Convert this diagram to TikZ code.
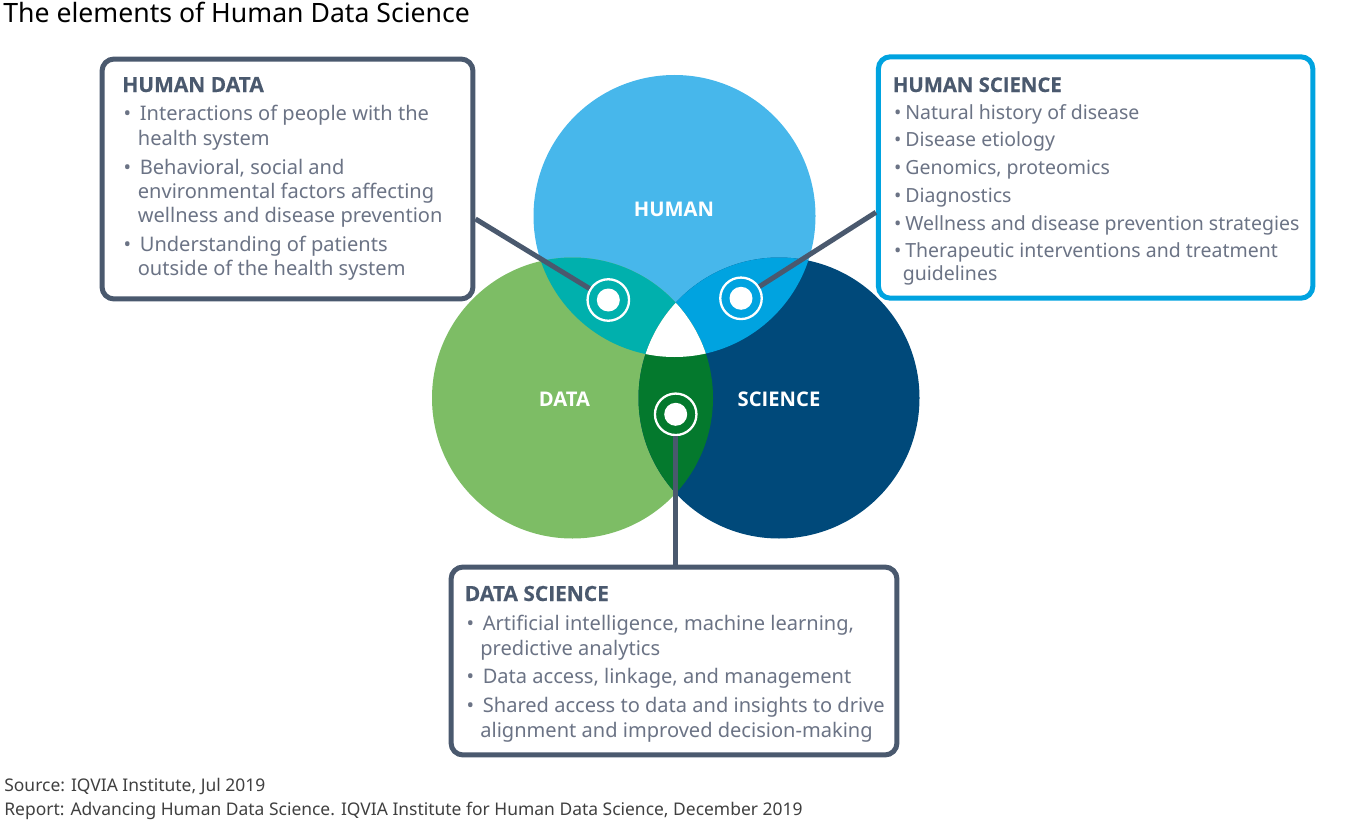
\documentclass[tikz,border=0pt]{standalone}
\usepackage{fontspec}
\setmainfont{Noto Sans}
\newfontfamily\headfont{Open Sans}
\newfontfamily\heavyfont{Open Sans}[BoldFeatures={FakeBold=0.4}]
\definecolor{humanblue}{HTML}{47B7EB}
\definecolor{datagreen}{HTML}{7DBD65}
\definecolor{sciencenavy}{HTML}{00497A}
\definecolor{humandata}{HTML}{00B0AD}
\definecolor{humanscience}{HTML}{00A3E0}
\definecolor{datascience}{HTML}{04792D}
\definecolor{slate}{HTML}{4A596E}
\definecolor{bodygrey}{HTML}{6B7385}
\tikzset{
  infobox/.style={draw=slate,line width=0.1cm,rounded corners=0.24cm,fill=white,inner sep=0pt},
  heading/.style={anchor=base west,inner sep=0pt,text=slate,font=\fontsize{11.9}{14}\heavyfont\bfseries},
  hshead/.style={heading,font=\fontsize{11.56}{14}\heavyfont\bfseries},
  line/.style={anchor=base west,inner sep=0pt,text=bodygrey,font=\fontsize{11.42}{14}\selectfont},
  hsline/.style={line,font=\fontsize{11.1}{14}\selectfont},
  label/.style={anchor=base,inner sep=0pt,text=white,font=\fontsize{11.5}{14}\headfont\bfseries},
  foot/.style={anchor=base west,inner sep=0pt,text=black!75,font=\fontsize{9.93}{12}\selectfont},
  ring/.style={circle,draw=white,line width=0.046cm,minimum size=0.83cm,inner sep=0pt},
  ringdot/.style={circle,fill=white,minimum size=0.46cm,inner sep=0pt},
  wire/.style={draw=slate,line width=0.1cm}
}
\newcommand{\bul}[1]{\makebox[#1][l]{\hspace{1pt}•}}
\begin{document}
\begin{tikzpicture}[x=0.02cm,y=-0.02cm]
\useasboundingbox (0,0) rectangle (1352,828);
\node[anchor=base west,inner sep=0pt,font=\fontsize{15.15}{18}\selectfont] (title) at (3,23) {The elements of Human Data Science};
% circles
\coordinate (human) at (674.5,216);
\coordinate (data) at (572.5,398);
\coordinate (science) at (779,398);
\fill[humanblue] (human) circle (141);
\fill[datagreen] (data) circle (140.5);
\fill[sciencenavy] (science) circle (140.5);
\begin{scope}
  \clip (human) circle (141);
  \fill[humandata] (data) circle (140.5);
  \fill[humanscience] (science) circle (140.5);
\end{scope}
\begin{scope}
  \clip (data) circle (140.5);
  \fill[datascience] (science) circle (140.5);
  \clip (science) circle (140.5);
  \fill[white] (human) circle (141);
\end{scope}
\node[label] (humanlabel) at (674,216) {HUMAN};
\node[label] (datalabel) at (564.5,406) {DATA};
\node[label] (sciencelabel) at (779,406) {SCIENCE};
% rings
\node[ring] (hdring) at (608.3,300) {};
\node[ringdot] (hddot) at (hdring) {};
\node[ring] (hsring) at (741,298.3) {};
\node[ringdot] (hsdot) at (hsring) {};
\node[ring] (dsring) at (675.7,414.3) {};
\node[ringdot] (dsdot) at (dsring) {};
% boxes
\node[infobox,minimum width=7.42cm,minimum height=4.8cm] (hdbox) at (287.5,179) {};
\node[infobox,draw=humanscience,minimum width=8.69cm,minimum height=4.83cm] (hsbox) at (1095.6,177.5) {};
\node[infobox,minimum width=8.92cm,minimum height=3.76cm] (dsbox) at (674,661) {};
\draw[wire] (hdbox.-12.4) -- (hdring);
\draw[wire] (hsbox.189.4) -- (hsring);
\draw[wire] (dsring.south) -- (dsring.south |- dsbox.north);
% human data
\node[heading] (hdhead) at (122,92) {HUMAN DATA};
\node[line] (hd1) at (121.5,121) {\bul{0.36cm}Interactions of people with the};
\node[line] (hd2) at (137.5,146) {health system};
\node[line] (hd3) at (121.5,174) {\bul{0.36cm}Behavioral, social and};
\node[line] (hd4) at (137.5,198) {environmental factors affecting};
\node[line] (hd5) at (137.5,222) {wellness and disease prevention};
\node[line] (hd6) at (121.5,251) {\bul{0.36cm}Understanding of patients};
\node[line] (hd7) at (137.5,275) {outside of the health system};
% human science
\node[hshead] (hshead) at (892.5,92) {HUMAN SCIENCE};
\node[hsline] (hs1) at (892,119) {\bul{0.26cm}Natural history of disease};
\node[hsline] (hs2) at (892,147) {\bul{0.26cm}Disease etiology};
\node[hsline] (hs3) at (892,174.5) {\bul{0.26cm}Genomics, proteomics};
\node[hsline] (hs4) at (892,202.5) {\bul{0.26cm}Diagnostics};
\node[hsline] (hs5) at (892,230.5) {\bul{0.26cm}Wellness and disease prevention strategies};
\node[hsline] (hs6) at (892,257.5) {\bul{0.26cm}Therapeutic interventions and treatment};
\node[hsline] (hs7) at (902.5,280.5) {guidelines};
% data science
\node[heading] (dshead) at (464.5,601) {DATA SCIENCE};
\node[line] (ds1) at (464.5,630) {\bul{0.36cm}Artificial intelligence, machine learning,};
\node[line] (ds2) at (480,655) {predictive analytics};
\node[line] (ds3) at (464.5,683) {\bul{0.36cm}Data access, linkage, and management};
\node[line] (ds4) at (464.5,712) {\bul{0.36cm}Shared access to data and insights to drive};
\node[line] (ds5) at (480,737) {alignment and improved decision-making};
% source
\node[foot] (source) at (4,791) {Source: IQVIA Institute, Jul 2019};
\node[foot] (report) at (4,815) {Report: Advancing Human Data Science. IQVIA Institute for Human Data Science, December 2019};
\end{tikzpicture}
\end{document}
